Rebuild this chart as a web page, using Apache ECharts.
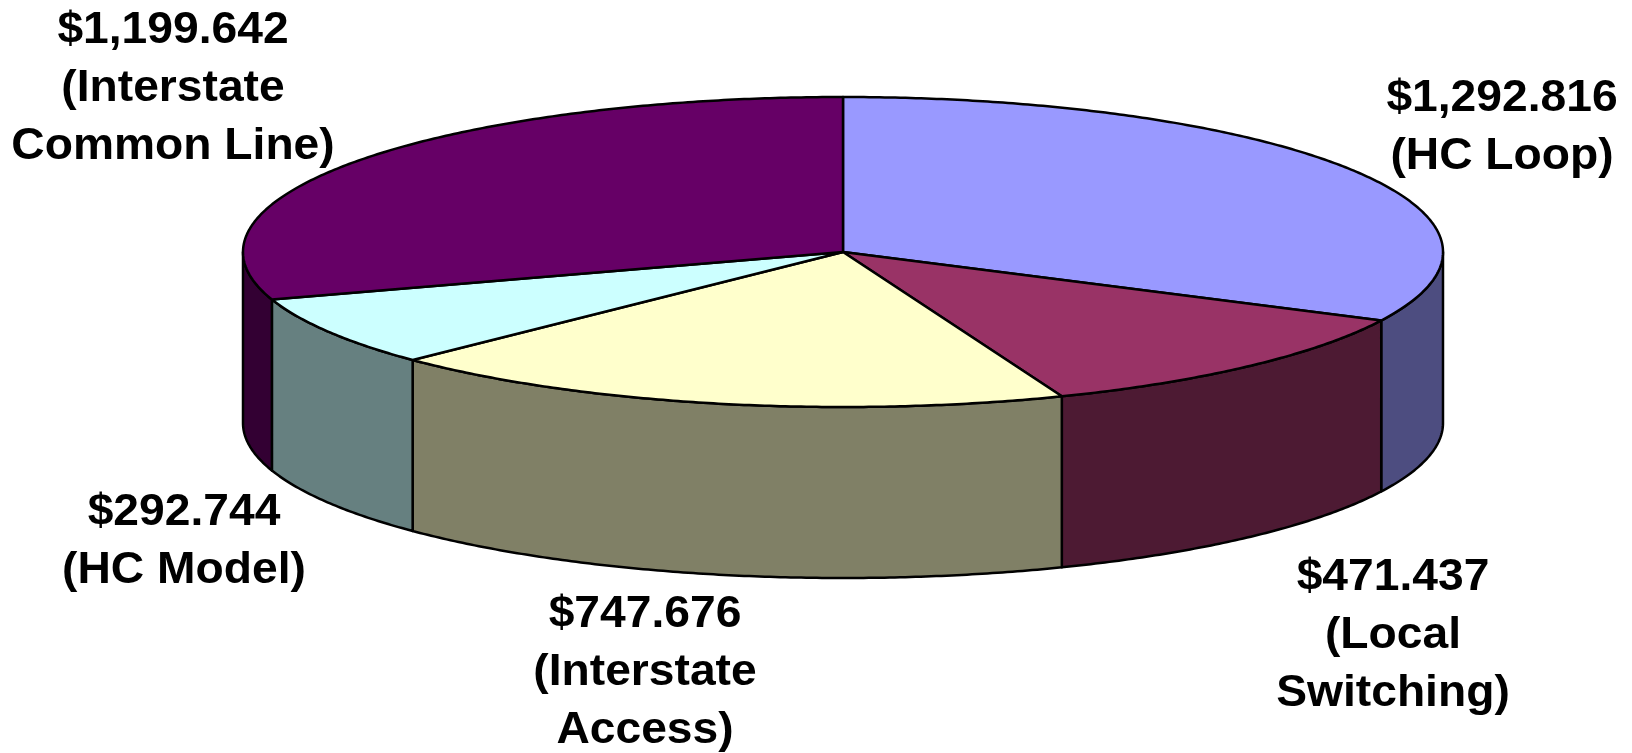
<!DOCTYPE html>
<html>
<head>
<meta charset="utf-8">
<title>Cost components</title>
<script src="https://cdn.jsdelivr.net/npm/echarts@6/dist/echarts.min.js"></script>
<style>
  html, body { margin: 0; padding: 0; background: #ffffff; }
  #chart { width: 1632px; height: 753px; }
</style>
</head>
<body>
<div id="chart"></div>
<script>
// ---- data ----
const categories = ['HC Loop', 'Local\nSwitching', 'Interstate\nAccess', 'HC Model', 'Interstate\nCommon Line'];
const values = [1292.816, 471.437, 747.676, 292.744, 1199.642];

// ---- styling ----
const topColors  = ['#9999FF', '#993366', '#FFFFCC', '#CCFFFF', '#660066'];
const sideColors = ['#4D4D80', '#4D1A33', '#808066', '#668080', '#330033'];

// ---- layout (pixels) ----
const PIE = { cx: 843, cy: 252, rx: 600, ry: 155, depth: 171 };
const LABEL_POS = [[1502, 128], [1393, 636], [645, 673], [184, 542], [173, 89]];
const FONT = 'bold 44px "Liberation Sans", Arial, sans-serif';

const total = values.reduce((a, b) => a + b, 0);
const starts = [];
values.reduce((acc, v, i) => { starts[i] = acc; return acc + v; }, 0);

// angle in degrees, clockwise from 12 o'clock on the tilted disc
function pt(deg, dy) {
  const r = deg * Math.PI / 180;
  return [PIE.cx + PIE.rx * Math.sin(r), PIE.cy - PIE.ry * Math.cos(r) + (dy || 0)];
}
function arc(a0, a1, dy) {
  const pts = [];
  const n = Math.max(2, Math.ceil(Math.abs(a1 - a0) / 0.5));
  for (let k = 0; k <= n; k++) pts.push(pt(a0 + (a1 - a0) * k / n, dy));
  return pts;
}
function sliceAngles(i) {
  const a0 = starts[i] / total * 360;
  const a1 = (starts[i] + values[i]) / total * 360;
  return [a0, a1];
}
function fmt(v) {
  return '$' + v.toLocaleString('en-US', { minimumFractionDigits: 3, maximumFractionDigits: 3 });
}

const edge = { stroke: '#000000', lineWidth: 2.5, lineJoin: 'round' };

// outer walls of the front half of the disc
function renderSide(params, api) {
  const i = params.dataIndex;
  const [a0, a1] = sliceAngles(i);
  const children = [];
  // visible wall spans 90..270 degrees (and its repetition past a full turn)
  [[90, 270], [450, 630]].forEach(([f0, f1]) => {
    const s = Math.max(a0, f0), e = Math.min(a1, f1);
    if (e > s) {
      const pts = arc(s, e, 0).concat(arc(e, s, PIE.depth));
      children.push({
        type: 'polygon',
        shape: { points: pts },
        style: Object.assign({ fill: sideColors[i] }, edge)
      });
    }
  });
  return { type: 'group', children };
}

// top faces and value labels
function renderTop(params, api) {
  const i = params.dataIndex;
  const [a0, a1] = sliceAngles(i);
  const pts = [[PIE.cx, PIE.cy]].concat(arc(a0, a1, 0));
  const v = api.value(0);
  return {
    type: 'group',
    children: [
      {
        type: 'polygon',
        shape: { points: pts },
        style: Object.assign({ fill: topColors[i] }, edge)
      },
      {
        type: 'text',
        x: LABEL_POS[i][0],
        y: LABEL_POS[i][1],
        scaleX: 1.05,
        style: {
          text: fmt(v) + '\n(' + categories[i] + ')',
          font: FONT,
          fill: '#000000',
          align: 'center',
          verticalAlign: 'middle',
          lineHeight: 58
        }
      }
    ]
  };
}

const seriesData = values.map((v, i) => ({ name: categories[i].replace('\n', ' '), value: [v] }));

const chart = echarts.init(document.getElementById('chart'), null, { renderer: 'canvas' });
chart.setOption({
  backgroundColor: '#ffffff',
  animation: false,
  series: [
    { type: 'custom', coordinateSystem: 'none', renderItem: renderSide, data: seriesData, z: 1, silent: true },
    { type: 'custom', coordinateSystem: 'none', renderItem: renderTop, data: seriesData, z: 2, silent: true }
  ]
});
</script>
</body>
</html>
